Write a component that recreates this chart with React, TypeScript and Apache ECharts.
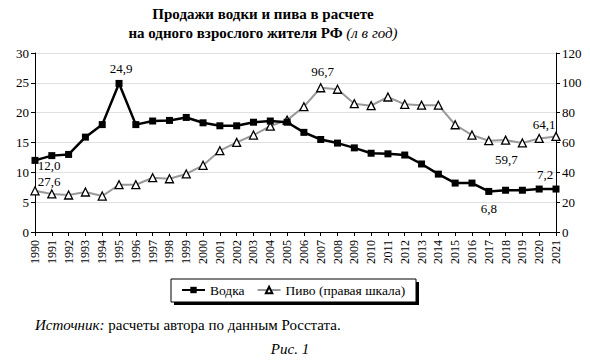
import React, { useEffect, useRef } from "react";
import * as echarts from "echarts";

const years = ["1990","1991","1992","1993","1994","1995","1996","1997","1998","1999","2000","2001","2002","2003","2004","2005","2006","2007","2008","2009","2010","2011","2012","2013","2014","2015","2016","2017","2018","2019","2020","2021"];
const vodka = [12.0,12.8,13.0,15.9,18.0,24.9,18.0,18.6,18.7,19.2,18.3,17.8,17.8,18.4,18.6,18.4,16.7,15.5,14.9,14.1,13.2,13.1,12.9,11.4,9.7,8.2,8.2,6.8,7.0,7.0,7.2,7.2];
const beer = [27.6,25.5,24.8,26.8,24.1,31.7,31.7,36.4,35.7,38.9,44.7,54.5,60.1,65.0,71.0,75.0,84.0,96.7,95.7,86.0,84.7,90.5,85.6,85.0,85.0,71.9,65.0,61.2,61.6,59.7,62.7,64.1];
const leftTicks = [0,5,10,15,20,25,30];
const rightTicks = [0,20,40,60,80,100,120];

const FONT = "'Liberation Serif', 'Times New Roman', serif";
const fmt = (v: number) => v.toFixed(1).replace(".", ",");

type LabelCfg = { position: string; offset: [number, number] };
const vodkaLabels: Record<number, LabelCfg> = {
  0: { position: "bottom", offset: [14, -10] },
  5: { position: "top", offset: [2, 0] },
  27: { position: "bottom", offset: [0, 2] },
  31: { position: "top", offset: [-11, 0] },
};
const beerLabels: Record<number, LabelCfg> = {
  0: { position: "top", offset: [14, 7] },
  17: { position: "top", offset: [2, 0] },
  29: { position: "bottom", offset: [-16, 0] },
  31: { position: "top", offset: [-12, 4] },
};

function withLabels(values: number[], cfg: Record<number, LabelCfg>) {
  return values.map((v, i) => {
    const c = cfg[i];
    if (!c) return v;
    return {
      value: v,
      label: {
        show: true,
        position: c.position,
        offset: c.offset,
        formatter: () => fmt(v),
        color: "#000",
        fontFamily: FONT,
        fontSize: 13,
        lineHeight: 13,
      },
    };
  });
}

export default function App() {
  const ref = useRef<HTMLDivElement>(null);
  useEffect(() => {
    if (!ref.current) return;
    const chart = echarts.init(ref.current, null, { renderer: "svg" });
    chart.setOption({
      animation: false,
      backgroundColor: "#fff",
      textStyle: { fontFamily: FONT, color: "#000" },
      grid: { left: 35, right: 34, top: 53, bottom: 129 },
      xAxis: {
        type: "category",
        data: years,
        boundaryGap: false,
        axisLine: { lineStyle: { color: "#000", width: 1 } },
        axisTick: { show: true, length: 4, lineStyle: { color: "#000" } },
        axisLabel: { rotate: 90, fontSize: 12, color: "#000", fontFamily: FONT, margin: 8, interval: 0 },
        splitLine: { show: false },
      },
      yAxis: [
        {
          type: "value",
          min: leftTicks[0],
          max: leftTicks[leftTicks.length - 1],
          interval: 5,
          axisLine: { show: true, lineStyle: { color: "#000" } },
          axisTick: { show: true, length: 4, lineStyle: { color: "#000" } },
          axisLabel: { fontSize: 13, color: "#000", fontFamily: FONT, margin: 6 },
          splitLine: { show: true, lineStyle: { color: "#e0e0e0", width: 1 } },
        },
        {
          type: "value",
          min: rightTicks[0],
          max: rightTicks[rightTicks.length - 1],
          interval: 20,
          position: "right",
          axisLine: { show: true, lineStyle: { color: "#000" } },
          axisTick: { show: true, length: 4, lineStyle: { color: "#000" } },
          axisLabel: { fontSize: 13, color: "#000", fontFamily: FONT, margin: 6 },
          splitLine: { show: false },
        },
      ],
      legend: {
        left: 181,
        top: 283,
        padding: 0,
        itemGap: 12,
        itemWidth: 23,
        itemHeight: 8,
        z: 10,
        textStyle: { fontFamily: FONT, fontSize: 13.5, color: "#000" },
        data: ["Водка", "Пиво (правая шкала)"],
      },
      series: [
        {
          name: "Пиво (правая шкала)",
          type: "line",
          yAxisIndex: 1,
          data: withLabels(beer, beerLabels),
          symbol: "triangle",
          symbolSize: 8,
          showAllSymbol: true,
          lineStyle: { color: "#999", width: 2 },
          itemStyle: { color: "#fff", borderColor: "#000", borderWidth: 1.3 },
          z: 2,
        },
        {
          name: "Водка",
          type: "line",
          yAxisIndex: 0,
          data: withLabels(vodka, vodkaLabels),
          symbol: "rect",
          symbolSize: 7,
          showAllSymbol: true,
          lineStyle: { color: "#000", width: 2.5 },
          itemStyle: { color: "#000" },
          z: 3,
        },
      ],
      graphic: [
        {
          type: "rect",
          z: 1,
          shape: { x: 174, y: 282, width: 245, height: 23 },
          style: { fill: "#000" },
        },
        {
          type: "rect",
          z: 2,
          shape: { x: 171, y: 279, width: 245, height: 23 },
          style: { fill: "#fff", stroke: "#000", lineWidth: 1 },
        },
        {
          type: "text",
          x: 263,
          y: 4,
          style: {
            text: "Продажи водки и пива в расчете\nна одного взрослого жителя РФ {i|(л в год)}",
            textAlign: "center",
            fontFamily: FONT,
            fontSize: 15,
            fontWeight: "bold",
            lineHeight: 19,
            fill: "#000",
            rich: {
              i: { fontFamily: FONT, fontSize: 15, fontStyle: "italic", fontWeight: "normal", fill: "#000" },
            },
          },
        },
        {
          type: "text",
          x: 35,
          y: 317,
          style: {
            text: "{i|Источник:} расчеты автора по данным Росстата.",
            fontFamily: FONT,
            fontSize: 15,
            fill: "#000",
            rich: {
              i: { fontFamily: FONT, fontSize: 15, fontStyle: "italic", fill: "#000" },
            },
          },
        },
        {
          type: "text",
          x: 290,
          y: 341,
          style: {
            text: "Рис. 1",
            textAlign: "center",
            fontFamily: FONT,
            fontSize: 15,
            fontStyle: "italic",
            fill: "#000",
          },
        },
      ],
    });
    return () => chart.dispose();
  }, []);
  return (
    <div
      ref={ref}
      style={{ position: "fixed", left: 0, top: 0, width: 590, height: 361, background: "#fff" }}
    />
  );
}
